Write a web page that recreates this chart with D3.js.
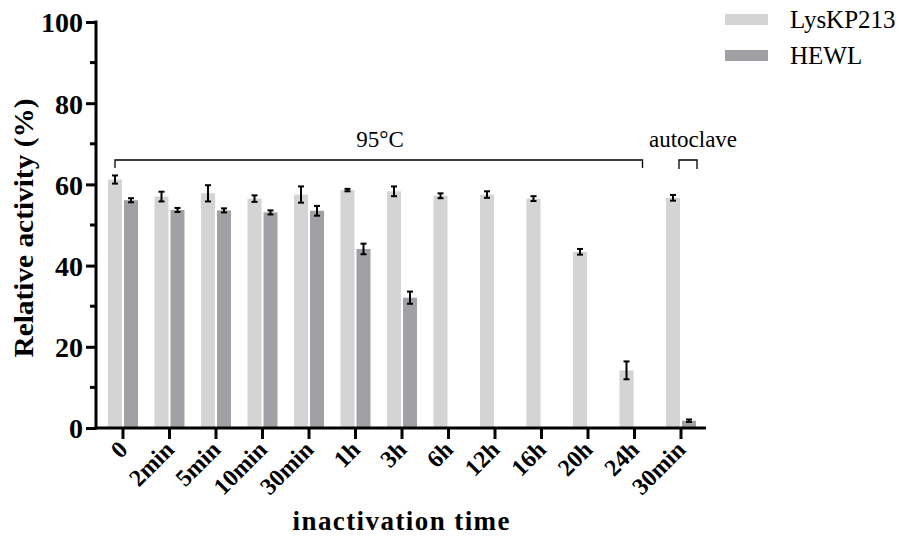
<!DOCTYPE html>
<html><head><meta charset="utf-8">
<script src="https://cdn.jsdelivr.net/npm/d3@7"></script>
</head><body style="margin:0;background:#fff"><svg id="c" width="899" height="540" style="display:block"></svg>
<script>
const categories = ["0","2min","5min","10min","30min","1h","3h","6h","12h","16h","20h","24h","30min "];
const lysValues = [61.2,57.0,57.8,56.5,57.5,58.6,58.3,57.2,57.5,56.5,43.4,14.2,56.7];
const lysErrors = [1.0,1.2,2.0,0.8,2.0,0.3,1.2,0.6,0.8,0.6,0.7,2.2,0.7];
const hewlValues = [56.1,53.7,53.6,53.1,53.5,44.1,32.1,null,null,null,null,null,1.8];
const hewlErrors = [0.5,0.5,0.5,0.5,1.2,1.3,1.5,null,null,null,null,null,0.3];
const yTicks = [0,20,40,60,80,100];
const seriesNames = ["LysKP213","HEWL"];
const colors = ["#d4d4d4","#a1a1a5"];
const FONT = '"Liberation Serif"';

const svg = d3.select("#c");
const y = d3.scaleLinear().domain([0,100]).range([428,22]);
const x = d3.scaleBand().domain(categories).range([99.75,704.25]).paddingInner(0).paddingOuter(0);
const bw = 14;
const sub = d3.scaleOrdinal().domain([0,1]).range([-8,8]);

const series = [
  {vals: lysValues, errs: lysErrors},
  {vals: hewlValues, errs: hewlErrors}
];
series.forEach((s,si)=>{
  const g = svg.append("g");
  categories.forEach((c,i)=>{
    const v = s.vals[i];
    if (v==null) return;
    const cx = x(c)+x.bandwidth()/2 + sub(si);
    g.append("rect").attr("x",cx-bw/2).attr("width",bw)
      .attr("y",y(v)).attr("height",y(0)-y(v)).attr("fill",colors[si]);
  });
});
series.forEach((s,si)=>{
  categories.forEach((c,i)=>{
    const v = s.vals[i], e = s.errs[i];
    if (v==null) return;
    const cx = x(c)+x.bandwidth()/2 + sub(si);
    const g = svg.append("g").attr("stroke","#000").attr("stroke-width",2);
    g.append("line").attr("x1",cx).attr("x2",cx).attr("y1",y(v+e)).attr("y2",y(v-e));
    g.append("line").attr("x1",cx-3).attr("x2",cx+3).attr("y1",y(v+e)).attr("y2",y(v+e));
    g.append("line").attr("x1",cx-3).attr("x2",cx+3).attr("y1",y(v-e)).attr("y2",y(v-e));
  });
});

function txt(sel, size, bold){
  return sel.style("font-family",FONT).style("font-size",size+"px").style("font-weight",bold?"bold":"normal").attr("fill","#000");
}

// y axis
const yAxis = d3.axisLeft(y).tickValues(yTicks).tickSize(10).tickPadding(3).tickFormat(d3.format("d"));
const ya = svg.append("g").attr("transform","translate(96,0)").call(yAxis);
ya.attr("font-family",null).attr("font-size",null);
ya.select(".domain").attr("stroke","#000").attr("stroke-width",3).attr("d","M0,20.5V429.5");
ya.selectAll(".tick line").attr("stroke-width",3);
txt(ya.selectAll(".tick text"),28,true).attr("dy","0.35em");
const minor = [10,30,50,70,90];
svg.append("g").selectAll("line").data(minor).join("line")
  .attr("x1",90).attr("x2",96).attr("y1",d=>y(d)).attr("y2",d=>y(d))
  .attr("stroke","#000").attr("stroke-width",3);

// x axis
const xAxis = d3.axisBottom(x).tickSize(11).tickFormat(d=>d.trim());
const xa = svg.append("g").attr("transform","translate(0,428)").call(xAxis);
xa.attr("font-family",null).attr("font-size",null);
xa.select(".domain").attr("stroke","#000").attr("stroke-width",3).attr("d","M94.5,0H706");
xa.selectAll(".tick line").attr("stroke-width",3);
txt(xa.selectAll(".tick text"),24,true)
  .attr("text-anchor","end").attr("dy",0).attr("y",0)
  .attr("transform","translate(6,23) rotate(-45)");

// axis titles
txt(svg.append("text"),28,true).attr("transform","translate(33,228) rotate(-90)").attr("text-anchor","middle")
  .attr("textLength",259).attr("lengthAdjust","spacingAndGlyphs").text("Relative activity (%)");
txt(svg.append("text"),27,true).attr("x",401).attr("y",530).attr("text-anchor","middle")
  .attr("textLength",217).attr("lengthAdjust","spacing").text("inactivation time");

// brackets
const lc = i => x(categories[i])+x.bandwidth()/2 + sub(0);
const br = svg.append("g").attr("fill","none").attr("stroke","#000").attr("stroke-width",1.3);
br.append("path").attr("d",`M${lc(0)},168V160H${x(categories[11])+x.bandwidth()/2+8}V168`);
br.append("path").attr("d",`M${lc(12)+6},169V160H${x(categories[12])+x.bandwidth()/2+16}V169`);
txt(svg.append("text"),23,false).attr("x",380).attr("y",147).attr("text-anchor","middle").text("95°C");
txt(svg.append("text"),23,false).attr("x",693).attr("y",147).attr("text-anchor","middle").text("autoclave");

// legend
const lg = svg.append("g");
seriesNames.forEach((n,i)=>{
  lg.append("rect").attr("x",725).attr("y",14+i*36).attr("width",43).attr("height",11).attr("fill",colors[i]);
  txt(lg.append("text"),25,false).attr("x",790).attr("y",28+i*36).text(n);
});
</script></body></html>
